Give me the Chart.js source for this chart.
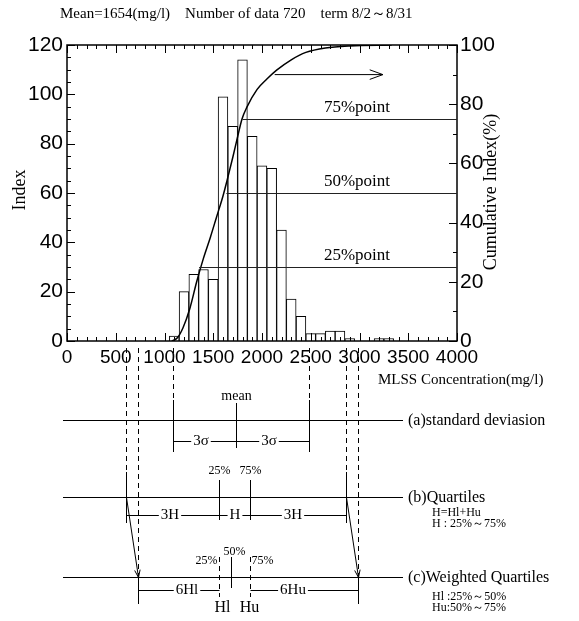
<!DOCTYPE html>
<html>
<head>
<meta charset="utf-8">
<script src="https://cdn.jsdelivr.net/npm/chart.js@4.4.1/dist/chart.umd.min.js"></script>
<style>
  html, body { margin: 0; padding: 0; background: #fff; }
  #wrap { width: 579px; height: 621px; }
</style>
</head>
<body>
<div id="wrap"><canvas id="chart" width="579" height="621"></canvas></div>
<script>
// histogram, bin width 100 mg/l
const binCenters = [1100, 1200, 1300, 1400, 1500, 1600, 1700, 1800, 1900, 2000, 2100, 2200,
    2300, 2400, 2500, 2600, 2700, 2800, 2900, 3000, 3100, 3200, 3300];
const binCounts = [2, 20, 27, 29, 25, 99, 87, 114, 83, 71, 70, 45,
    17, 10, 3, 3, 4, 4, 1, 0, 0, 1, 1];

// cumulative index curve (%)
const cumX = [1075, 1130, 1190, 1260, 1330, 1400, 1470, 1535, 1600, 1640, 1700, 1750,
    1795, 1845, 1950, 2050, 2150, 2300, 2450, 2650, 2900, 3330];
const cumY = [0, 1, 4.5, 11, 20, 28, 35, 42, 49, 54, 62, 69,
    75, 79, 85, 88.5, 91.5, 95, 97.5, 99, 99.7, 100];

// percentile guide lines: level (%) and where they leave the curve (mg/l)
const pointLevels = [25, 50, 75];
const pointStarts = [1355, 1635, 1800];
const pointLabels = ['25%point', '50%point', '75%point'];

// tick labels
const xTicks = [0, 500, 1000, 1500, 2000, 2500, 3000, 3500, 4000];
const yTicks = [0, 20, 40, 60, 80, 100, 120];
const y2Ticks = [0, 20, 40, 60, 80, 100];

// lower diagram positions (mg/l)
const sdMarks = [1084, 1733, 2485];        // mean-3σ, mean, mean+3σ
const quartileMarks = [1562, 1877];        // 25%, 75%
const weightedMarks = [1562, 1679, 1877];  // 25%, 50%, 75%
const quartileFences = [605, 2862];
const weightedFences = [725, 2982];

const serif = '"Liberation Serif", "DejaVu Serif", serif';
const sans = '"Liberation Sans", Arial, sans-serif';

function txt(ctx, s, x, y, size, align) {
    ctx.font = size + 'px ' + serif;
    ctx.textAlign = align || 'center';
    ctx.textBaseline = 'middle';
    ctx.fillText(s, x, y);
}
function line(ctx, x1, y1, x2, y2, dash) {
    ctx.setLineDash(dash ? [5, 4] : []);
    ctx.beginPath();
    ctx.moveTo(x1, y1);
    ctx.lineTo(x2, y2);
    ctx.stroke();
    ctx.setLineDash([]);
}
// horizontal bracket with a label in the gap
function bracket(ctx, x1, x2, y, label, cx) {
    ctx.font = '15px ' + serif;
    const w = ctx.measureText(label).width / 2 + 2;
    line(ctx, x1, y, cx - w, y);
    line(ctx, cx + w, y, x2, y);
    txt(ctx, label, cx, y, 15);
}
function arrowHead(ctx, x, y, ang, len) {
    ctx.beginPath();
    ctx.moveTo(x - len * Math.cos(ang - 0.35), y - len * Math.sin(ang - 0.35));
    ctx.lineTo(x, y);
    ctx.lineTo(x - len * Math.cos(ang + 0.35), y - len * Math.sin(ang + 0.35));
    ctx.stroke();
}

const overlay = {
    id: 'overlay',
    afterDraw(chart) {
        const ctx = chart.ctx;
        const xs = chart.scales.x, ys = chart.scales.y, y2 = chart.scales.y2;
        const a = chart.chartArea;
        ctx.save();
        ctx.strokeStyle = '#000';
        ctx.fillStyle = '#000';
        ctx.lineWidth = 1;

        // frame
        ctx.lineWidth = 1.5;
        ctx.strokeRect(a.left, a.top, a.right - a.left, a.bottom - a.top);
        ctx.lineWidth = 1;

        // inward ticks
        for (let v = 0; v <= 4000; v += 100) {
            const px = Math.round(xs.getPixelForValue(v)) + 0.5;
            const l = v % 500 === 0 ? 8 : 4;
            line(ctx, px, a.bottom, px, a.bottom - l);
            line(ctx, px, a.top, px, a.top + l);
        }
        for (let v = 0; v <= 120; v += 5) {
            const py = Math.round(ys.getPixelForValue(v)) + 0.5;
            line(ctx, a.left, py, a.left + (v % 20 === 0 ? 8 : 4), py);
        }
        for (let v = 0; v <= 100; v += 10) {
            const py = Math.round(y2.getPixelForValue(v)) + 0.5;
            line(ctx, a.right, py, a.right - (v % 20 === 0 ? 8 : 4), py);
        }

        // percentile guide lines
        ctx.strokeStyle = '#222';
        pointLevels.forEach((p, i) => {
            const py = Math.round(y2.getPixelForValue(p)) + 0.5;
            line(ctx, xs.getPixelForValue(pointStarts[i]), py, a.right, py);
            txt(ctx, pointLabels[i], 357, py - 12, 17);
        });
        ctx.strokeStyle = '#000';

        // arrow pointing at the right axis
        const ay = y2.getPixelForValue(90);
        const ax1 = xs.getPixelForValue(2130), ax2 = xs.getPixelForValue(3240);
        line(ctx, ax1, ay, ax2, ay);
        arrowHead(ctx, ax2, ay, 0, 14);

        // texts
        ctx.font = '15px ' + serif;
        ctx.textAlign = 'left';
        ctx.textBaseline = 'middle';
        ctx.fillText('Mean=1654(mg/l)    Number of data 720    term 8/2\uFF5E8/31', 60, 14);
        ctx.save();
        ctx.translate(20, 190);
        ctx.rotate(-Math.PI / 2);
        txt(ctx, 'Index', 0, 0, 18);
        ctx.restore();
        ctx.save();
        ctx.translate(491, 192);
        ctx.rotate(-Math.PI / 2);
        txt(ctx, 'Cumulative Index(%)', 0, 0, 18);
        ctx.restore();
        txt(ctx, 'MLSS Concentration(mg/l)', 378, 380, 15, 'left');

        // ---- lower diagram ----
        const X = v => Math.round(xs.getPixelForValue(v)) + 0.5;
        const lx1 = 63, lx2 = 403;
        const yA = 420.5, yB = 497.5, yC = 577.5;

        // (a) standard deviation
        line(ctx, lx1, yA, lx2, yA);
        txt(ctx, '(a)standard deviasion', 408, yA, 16, 'left');
        line(ctx, X(sdMarks[0]), 348, X(sdMarks[0]), 400, true);
        line(ctx, X(sdMarks[0]), 400, X(sdMarks[0]), 452);
        line(ctx, X(sdMarks[2]), 348, X(sdMarks[2]), 400, true);
        line(ctx, X(sdMarks[2]), 400, X(sdMarks[2]), 452);
        line(ctx, X(sdMarks[1]), 403, X(sdMarks[1]), 448);
        txt(ctx, 'mean', X(sdMarks[1]), 396, 14);
        bracket(ctx, X(sdMarks[0]), X(sdMarks[1]), 441.5, '3\u03C3', (X(sdMarks[0]) + X(sdMarks[1])) / 2 - 4);
        bracket(ctx, X(sdMarks[1]), X(sdMarks[2]), 441.5, '3\u03C3', (X(sdMarks[1]) + X(sdMarks[2])) / 2 - 4);

        // fences (dashed guides from the axis)
        quartileFences.forEach(v => {
            line(ctx, X(v), 348, X(v), 472, true);
            line(ctx, X(v), 472, X(v), 523);
        });
        weightedFences.forEach(v => {
            line(ctx, X(v), 348, X(v), 578, true);
            line(ctx, X(v), 578, X(v), 604);
        });

        // (b) quartiles
        line(ctx, lx1, yB, lx2, yB);
        txt(ctx, '(b)Quartiles', 408, yB, 16, 'left');
        txt(ctx, 'H=Hl+Hu', 432, 513, 12, 'left');
        txt(ctx, 'H : 25%\uFF5E75%', 432, 524, 12, 'left');
        line(ctx, X(quartileMarks[0]), 480, X(quartileMarks[0]), 520);
        line(ctx, X(quartileMarks[1]), 480, X(quartileMarks[1]), 520);
        txt(ctx, '25%', X(quartileMarks[0]), 471, 12);
        txt(ctx, '75%', X(quartileMarks[1]), 471, 12);
        const yBr = 515.5;
        bracket(ctx, X(quartileFences[0]), X(quartileMarks[0]), yBr, '3H', 170);
        bracket(ctx, X(quartileMarks[0]), X(quartileMarks[1]), yBr, 'H', (X(quartileMarks[0]) + X(quartileMarks[1])) / 2);
        bracket(ctx, X(quartileMarks[1]), X(quartileFences[1]), yBr, '3H', 293);

        // slanted arrows from quartile fences to weighted fences
        [0, 1].forEach(i => {
            const x1 = X(quartileFences[i]), x2 = X(weightedFences[i]);
            line(ctx, x1, yB, x2, yC);
            arrowHead(ctx, x2, yC, Math.atan2(yC - yB, x2 - x1), 8);
        });

        // (c) weighted quartiles
        line(ctx, lx1, yC, lx2, yC);
        txt(ctx, '(c)Weighted Quartiles', 408, yC, 16, 'left');
        txt(ctx, 'Hl :25%\uFF5E50%', 432, 597, 12, 'left');
        txt(ctx, 'Hu:50%\uFF5E75%', 432, 608, 12, 'left');
        line(ctx, X(weightedMarks[0]), 557, X(weightedMarks[0]), 597, true);
        line(ctx, X(weightedMarks[1]), 557, X(weightedMarks[1]), 588);
        line(ctx, X(weightedMarks[2]), 557, X(weightedMarks[2]), 597, true);
        txt(ctx, '25%', X(weightedMarks[0]) - 13, 561, 12);
        txt(ctx, '50%', X(weightedMarks[1]) + 3, 552, 12);
        txt(ctx, '75%', X(weightedMarks[2]) + 12, 561, 12);
        const yCr = 590.5;
        bracket(ctx, X(weightedFences[0]), X(weightedMarks[0]), yCr, '6Hl', 187);
        bracket(ctx, X(weightedMarks[2]), X(weightedFences[1]), yCr, '6Hu', 293);
        txt(ctx, 'Hl', X(weightedMarks[0]) + 3, 608, 16);
        txt(ctx, 'Hu', X(weightedMarks[2]) - 1, 608, 16);

        ctx.restore();
    }
};

new Chart(document.getElementById('chart'), {
    type: 'bar',
    data: {
        datasets: [{
            type: 'line',
            label: 'Cumulative Index',
            data: cumX.map((x, i) => ({ x: x, y: cumY[i] })),
            yAxisID: 'y2',
            borderColor: '#000',
            borderWidth: 1.5,
            pointRadius: 0,
            cubicInterpolationMode: 'monotone',
            fill: false
        }, {
            label: 'Index',
            data: binCenters.map((x, i) => ({ x: x, y: binCounts[i] })),
            yAxisID: 'y',
            backgroundColor: '#fff',
            borderColor: '#000',
            borderWidth: 1,
            barPercentage: 1,
            categoryPercentage: 1,
            grouped: false
        }]
    },
    options: {
        responsive: false,
        animation: false,
        layout: { padding: { left: 0, right: 0, top: 45, bottom: 0 } },
        plugins: { legend: { display: false }, tooltip: { enabled: false } },
        scales: {
            x: {
                type: 'linear', min: 0, max: 4000, offset: false,
                afterFit: s => { s.height = 280; },
                afterBuildTicks: s => { s.ticks = xTicks.map(v => ({ value: v })); },
                grid: { display: false, drawTicks: false, offset: false },
                border: { display: false },
                ticks: { autoSkip: false, maxRotation: 0, padding: 5, color: '#000',
                    callback: v => String(v),
                    font: { family: sans, size: 19 } }
            },
            y: {
                position: 'left', min: 0, max: 120,
                afterFit: s => { s.width = 67; },
                afterBuildTicks: s => { s.ticks = yTicks.map(v => ({ value: v })); },
                grid: { display: false, drawTicks: false },
                border: { display: false },
                ticks: { padding: 4, color: '#000', font: { family: sans, size: 21 } }
            },
            y2: {
                position: 'right', min: 0, max: 100,
                afterFit: s => { s.width = 122; },
                afterBuildTicks: s => { s.ticks = y2Ticks.map(v => ({ value: v })); },
                grid: { display: false, drawTicks: false },
                border: { display: false },
                ticks: { padding: 3, color: '#000', font: { family: sans, size: 21 } }
            }
        }
    },
    plugins: [overlay]
});
</script>
</body>
</html>
